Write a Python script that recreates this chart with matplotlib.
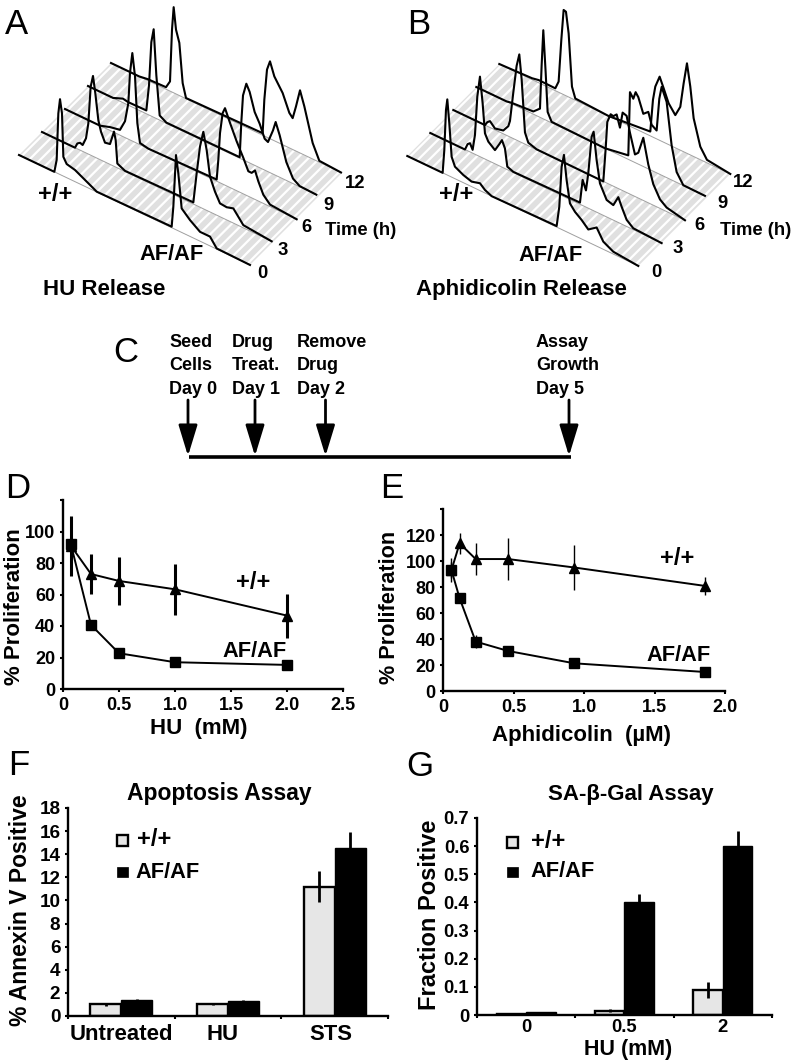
import matplotlib
matplotlib.use("Agg")
import matplotlib.pyplot as plt
from matplotlib.patches import Polygon, Rectangle

plt.rcParams['font.family'] = ['Liberation Sans', 'DejaVu Sans']
plt.rcParams['hatch.linewidth'] = 1.6
plt.rcParams['hatch.color'] = 'white'

W = 793
H = 1063

# flow traces: position along the DNA axis and signal height (arbitrary units)
a0_u = [0, 106, 113, 118, 123, 129, 133, 143, 168, 193, 218, 233, 458, 463, 471, 478, 488, 513, 543, 573, 593, 693]
a0_h = [0, 0, 39, 181, 226, 186, 58, 41, 35, 22, 9, 1, 3, 65, 224, 172, 72, 49, 28, 28, 2, 0]
a3_u = [0, 99, 106, 114, 122, 132, 139, 146, 153, 160, 169, 177, 189, 204, 216, 221, 226, 249, 454, 464, 474, 484, 494, 504, 519, 534, 554, 574, 589, 604, 689]
a3_h = [0, 0, 16, 22, 19, 44, 92, 205, 241, 192, 116, 85, 58, 61, 104, 81, 13, 2, 5, 97, 182, 231, 181, 106, 68, 40, 38, 44, 26, 8, 0]
a6_u = [0, 105, 135, 165, 180, 190, 195, 202, 210, 217, 225, 250, 455, 460, 465, 473, 480, 495, 515, 535, 550, 560, 570, 580, 595, 615, 695]
a6_h = [0, 0, 10, 16, 49, 108, 201, 264, 198, 61, 5, 0, 5, 67, 149, 213, 231, 194, 148, 108, 75, 75, 87, 59, 26, 6, 0]
a9_u = [0, 75, 105, 120, 175, 183, 190, 197, 205, 215, 235, 455, 460, 465, 475, 485, 500, 515, 530, 540, 555, 563, 575, 595, 615, 635, 685]
a9_h = [0, 0, 12, 9, 10, 89, 222, 264, 130, 14, 2, 3, 111, 193, 233, 213, 160, 132, 94, 89, 131, 160, 126, 55, 15, 2, 0]
a12_u = [0, 85, 110, 165, 177, 183, 188, 195, 205, 215, 225, 455, 460, 468, 477, 490, 515, 535, 545, 555, 567, 580, 605, 625, 690]
a12_h = [0, 0, 4, 6, 29, 187, 257, 193, 158, 42, 2, 6, 109, 203, 232, 193, 155, 105, 94, 134, 188, 146, 48, 4, 0]

b0_u = [0, 106, 111, 116, 120, 126, 133, 143, 168, 193, 218, 233, 253, 448, 456, 463, 470, 478, 488, 503, 523, 543, 568, 588, 618, 693]
b0_h = [0, 0, 70, 193, 227, 158, 61, 36, 23, 15, 22, 9, 0, 3, 65, 188, 227, 155, 90, 72, 57, 38, 56, 23, 7, 0]
b3_u = [0, 104, 112, 119, 127, 134, 141, 149, 157, 164, 174, 194, 207, 215, 224, 231, 249, 449, 457, 467, 474, 484, 490, 499, 509, 529, 549, 564, 574, 589, 609, 694]
b3_h = [0, 0, 20, 26, 10, 58, 176, 240, 164, 77, 57, 41, 65, 81, 60, 9, 2, 5, 77, 50, 105, 219, 237, 156, 91, 51, 45, 76, 52, 20, 4, 0]
b6_u = [0, 95, 102, 110, 125, 150, 165, 170, 180, 190, 198, 205, 215, 225, 250, 450, 457, 462, 472, 480, 490, 500, 508, 520, 530, 545, 555, 570, 585, 600, 620, 640, 695]
b6_h = [0, 0, 12, 19, 4, 10, 30, 48, 138, 223, 261, 190, 35, 9, 1, 0, 100, 184, 212, 210, 220, 185, 234, 230, 184, 126, 136, 188, 115, 63, 27, 12, 0]
b9_u = [0, 91, 106, 171, 191, 196, 201, 208, 214, 226, 386, 456, 461, 471, 478, 486, 501, 516, 526, 541, 549, 556, 571, 586, 601, 621, 686]
b9_h = [0, 0, 3, 8, 26, 158, 266, 144, 27, 3, 0, 12, 204, 189, 212, 201, 158, 171, 137, 127, 226, 265, 227, 104, 31, 1, 0]
b12_u = [0, 98, 118, 168, 178, 186, 193, 200, 208, 218, 228, 328, 453, 461, 468, 481, 493, 508, 528, 543, 553, 563, 573, 583, 603, 623, 693]
b12_h = [0, 4, 8, 7, 32, 160, 254, 252, 191, 36, 5, 0, 13, 112, 155, 191, 162, 124, 98, 130, 205, 270, 205, 115, 39, 9, 0]

time_labels = ['0', '3', '6', '9', '12']

# D
hu_dose = [0.07, 0.25, 0.5, 1.0, 2.0]
hu_wt = [91, 73, 68.6, 63.3, 46.6]
hu_wt_err = [19, 12.5, 15, 16, 14]
hu_af = [92, 40.7, 22.7, 17, 15.3]
hu_af_err = [1, 2, 1, 1, 1]

# E
aph_dose = [0.058, 0.116, 0.23, 0.46, 0.93, 1.86]
aph_wt = [93, 113.6, 101.5, 101.5, 95, 80.8]
aph_wt_err = [9.4, 8, 12, 16, 17, 7]
aph_af = [93, 71.3, 38, 30.8, 21.3, 14.6]
aph_af_err = [6, 2, 5, 2, 1, 1]

# F
apo_groups = ['Untreated', 'HU', 'STS']
apo_wt = [1.0, 1.0, 11.2]
apo_wt_err = [0.1, 0.05, 1.35]
apo_af = [1.4, 1.3, 14.5]
apo_af_err = [0.1, 0.1, 1.4]

# G
gal_groups = ['0', '0.5', '2']
gal_wt = [0.005, 0.015, 0.09]
gal_wt_err = [0.002, 0.005, 0.028]
gal_af = [0.01, 0.40, 0.60]
gal_af_err = [0.002, 0.03, 0.055]


fig = plt.figure(figsize=(W / 100, H / 100), dpi=100)

# whole figure in pixels, for the annotations and the flow panels
ov = fig.add_axes([0, 0, 1, 1])
ov.set_xlim(0, W)
ov.set_ylim(H, 0)
ov.axis('off')


def bold(x, y, s, size=16, **kw):
    ov.text(x, y, s, fontsize=size, fontweight='bold', va='baseline', **kw)


def letter(x, y, s):
    ov.text(x, y, s, fontsize=25, va='baseline')


def px_axes(left, top, right, bottom):
    ax = fig.add_axes([left / W, 1 - bottom / H, (right - left) / W, (bottom - top) / H])
    ax.patch.set_alpha(0)
    for s in ['top', 'right']:
        ax.spines[s].set_visible(False)
    for s in ['left', 'bottom']:
        ax.spines[s].set_linewidth(1.7)
    ax.tick_params(width=1.5, length=2.5, labelsize=13, pad=3)
    return ax


def waterfall(x0, y0, traces):
    step = 23.0
    slope = 0.476
    scale = 1 / 3
    n = len(traces)
    last = traces[0][0][-1]
    corners = [(x0, y0), (x0 + step * (n - 1), y0 - step * (n - 1)),
               (x0 + step * (n - 1) + last * scale, y0 - step * (n - 1) + slope * last * scale),
               (x0 + last * scale, y0 + slope * last * scale)]
    ov.add_patch(Polygon(corners, closed=True, facecolor='#e0e0e0', hatch='///', edgecolor='white', lw=0))
    for k in range(n - 1, -1, -1):
        u, h = traces[k]
        xs = [x0 + step * k + a * scale for a in u]
        base = [y0 - step * k + slope * a * scale for a in u]
        ys = [b - c * scale for b, c in zip(base, h)]
        ov.fill(xs, ys, color='white', lw=0)
        ov.plot([xs[0], xs[-1]], [base[0], base[-1]], color='#a0a0a0', lw=0.7)
        ov.plot(xs, ys, color='black', lw=1.5, solid_joinstyle='round')


def legend_keys(x, y1, y2, xt1, xt2, yb1, yb2):
    ov.add_patch(Rectangle((x, y1), 11, 11, facecolor='#e6e6e6', edgecolor='black', lw=1.7))
    ov.add_patch(Rectangle((x, y2), 11, 10, facecolor='black', edgecolor='black', lw=0.5))
    bold(xt1, yb1, '+/+', 17)
    bold(xt2, yb2, 'AF/AF', 15.7)


# A, B
waterfall(19, 155, [(a0_u, a0_h), (a3_u, a3_h), (a6_u, a6_h), (a9_u, a9_h), (a12_u, a12_h)])
waterfall(407.3, 156, [(b0_u, b0_h), (b3_u, b3_h), (b6_u, b6_h), (b9_u, b9_h), (b12_u, b12_h)])

a_label_x = [257, 278, 301, 323, 345]
a_label_y = [278, 255, 232, 210, 188]
b_label_x = [651, 673, 694, 717, 733]
b_label_y = [277, 253, 230, 208, 187]
for i, t in enumerate(time_labels):
    bold(a_label_x[i], a_label_y[i], t, 13.3)
    bold(b_label_x[i], b_label_y[i], t, 13.3)
bold(325, 235, 'Time (h)', 13.3)
bold(720, 235, 'Time (h)', 13.3)
bold(38, 201, '+/+', 17)
bold(439, 201, '+/+', 17)
bold(139, 260, 'AF/AF', 15.7)
bold(518, 261, 'AF/AF', 15.7)
bold(43, 295, 'HU Release', 16)
bold(416, 295, 'Aphidicolin Release', 16)

letter(5, 34, 'A')
letter(407, 34, 'B')
letter(113, 362, 'C')
letter(5, 498, 'D')
letter(380, 498, 'E')
letter(8, 775, 'F')
letter(406, 776, 'G')

# C
c_x = [188, 255, 325.5, 569]
c_text_x = [169, 232, 297, 536]
c_text = [['Seed', 'Cells', 'Day 0'], ['Drug', 'Treat.', 'Day 1'],
          ['Remove', 'Drug', 'Day 2'], ['Assay', 'Growth', 'Day 5']]
for x, xt, lines in zip(c_x, c_text_x, c_text):
    for yb, s in zip([347, 370, 394], lines):
        bold(xt, yb, s, 13)
    ov.annotate('', xy=(x, 456), xytext=(x, 400),
                arrowprops=dict(arrowstyle='-|>,head_length=1.9,head_width=0.58', mutation_scale=10,
                                lw=2, color='black', shrinkA=0, shrinkB=0))
ov.plot([189, 571], [456.5, 456.5], color='black', lw=2.6, solid_capstyle='butt')

# D
ax = px_axes(63, 500, 343, 689)
ax.errorbar(hu_dose, hu_wt, yerr=hu_wt_err, color='black', marker='^', ms=7, lw=1.4, elinewidth=2.2)
ax.errorbar(hu_dose, hu_af, yerr=hu_af_err, color='black', marker='s', ms=6.5, lw=1.4, elinewidth=1.2)
ax.set_xlim(0, 2.5)
ax.set_ylim(0, 120)
ax.set_xticks([0, 0.5, 1, 1.5, 2, 2.5], ['0', '0.5', '1.0', '1.5', '2.0', '2.5'], fontweight='bold')
ax.set_yticks(range(0, 121, 20), ['0', '20', '40', '60', '80', '100', ''], fontweight='bold')
bold(20, 607, '% Proliferation', 16, rotation=90, ha='center', rotation_mode='anchor')
bold(199, 734, 'HU  (mM)', 16, ha='center')
bold(236, 589, '+/+', 17)
bold(222, 657, 'AF/AF', 15.7)

# E
ax = px_axes(443.3, 509, 725, 691)
ax.errorbar(aph_dose, aph_wt, yerr=aph_wt_err, color='black', marker='^', ms=7, lw=1.4, elinewidth=1)
ax.errorbar(aph_dose, aph_af, yerr=aph_af_err, color='black', marker='s', ms=6.5, lw=1.4, elinewidth=1)
ax.set_xlim(0, 2.0)
ax.set_ylim(0, 140)
ax.set_xticks([0, 0.5, 1, 1.5, 2], ['0', '0.5', '1.0', '1.5', '2.0'], fontweight='bold')
ax.set_yticks(range(0, 141, 20), ['0', '20', '40', '60', '80', '100', '120', ''], fontweight='bold')
bold(395, 607, '% Proliferation', 15.6, rotation=90, ha='center', rotation_mode='anchor')
bold(582, 741, 'Aphidicolin  (µM)', 16, ha='center')
bold(660, 565, '+/+', 17)
bold(646, 661, 'AF/AF', 15.7)


def bars(ax, wt, wt_err, af, af_err, width):
    n = len(wt)
    x1 = [i - width / 2 for i in range(n)]
    x2 = [i + width / 2 for i in range(n)]
    eb = dict(ecolor='black', elinewidth=2, capsize=0)
    ax.bar(x1, wt, width, color='#e6e6e6', edgecolor='black', lw=1.7, yerr=wt_err, error_kw=eb)
    ax.bar(x2, af, width, color='black', edgecolor='black', lw=1, yerr=af_err, error_kw=eb)
    ax.set_xlim(-0.5, n - 0.5)
    ax.set_xticks([i - 0.5 for i in range(n + 1)], [''] * (n + 1))


# F
ax = px_axes(68, 808, 388, 1016)
bars(ax, apo_wt, apo_wt_err, apo_af, apo_af_err, 0.29)
ax.set_ylim(0, 18)
ax.set_yticks(range(0, 19, 2), [str(v) for v in range(0, 19, 2)], fontweight='bold', fontsize=13.6)
ax.set_xticks([0, 0.95, 1.96], apo_groups, minor=True, fontweight='bold', fontsize=15.9)
ax.tick_params(axis='x', which='minor', length=0, pad=6)
bold(219, 800, 'Apoptosis Assay', 16.5, ha='center')
bold(27, 910, '% Annexin V Positive', 16.5, rotation=90, ha='center', rotation_mode='anchor')
legend_keys(117, 835, 867, 137, 135, 846, 878)

# G
ax = px_axes(477, 818, 772, 1015)
bars(ax, gal_wt, gal_wt_err, gal_af, gal_af_err, 0.3)
ax.set_ylim(0, 0.7)
ax.set_yticks([0, 0.1, 0.2, 0.3, 0.4, 0.5, 0.6, 0.7],
              ['0', '0.1', '0.2', '0.3', '0.4', '0.5', '0.6', '0.7'], fontweight='bold', fontsize=13.3)
ax.set_xticks([0, 1, 2], gal_groups, minor=True, fontweight='bold', fontsize=13.3)
ax.tick_params(axis='x', which='minor', length=0, pad=3)
bold(631, 800, 'SA-β-Gal Assay', 16, ha='center')
bold(628, 1055, 'HU (mM)', 15.5, ha='center')
bold(436, 915, 'Fraction Positive', 17, rotation=90, ha='center', rotation_mode='anchor')
legend_keys(506.5, 837, 867, 531, 530, 848, 877)

fig.savefig('out.png', dpi=100)
